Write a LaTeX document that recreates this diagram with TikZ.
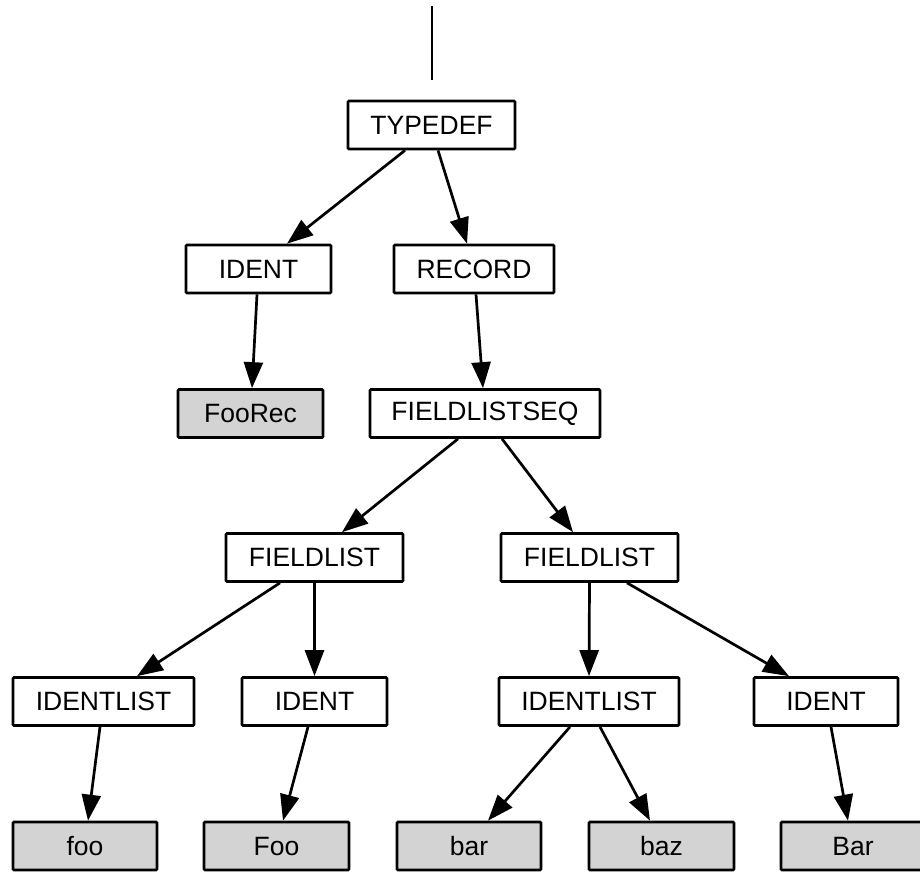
\documentclass[tikz,border=0pt]{standalone}
\usepackage{fontspec}
\setmainfont{Liberation Sans}
\usetikzlibrary{arrows.meta}

\definecolor{leafgray}{RGB}{211,211,211}

\tikzset{
  treenode/.style={draw=black, line width=2.7pt, rectangle, rounded corners=1pt,
    minimum height=48pt, inner sep=0pt, fill=white,
    font=\fontsize{26.5}{31}\selectfont},
  leafnode/.style={treenode, fill=leafgray},
  edge/.style={line width=2.7pt, -{Triangle[length=26pt, width=19pt]}},
}

\newcommand{\tedge}[4]{\draw[edge] ([xshift=#2pt]#1.south) -- ([xshift=#4pt]#3.north);}

\begin{document}
\begin{tikzpicture}[x=1pt, y=-1pt]
  \useasboundingbox (0,0) rectangle (920,871);

  % incoming line above the root
  \coordinate (rootin) at (432,6);
  \coordinate (rootinend) at (432,80);
  \draw[line width=2.7pt] (rootin) -- (rootinend);

  % level 1
  \node[treenode, minimum width=167pt] (typedef) at (431.5,125) {TYPEDEF};
  % level 2
  \node[treenode, minimum width=145pt] (ident1) at (258.5,269) {IDENT};
  \node[treenode, minimum width=160pt] (record) at (474,269) {RECORD};
  % level 3
  \node[leafnode, minimum width=145pt] (foorec) at (250.5,413.5) {FooRec};
  \node[treenode, minimum width=230pt] (flseq) at (485,413.5) {FIELDLISTSEQ};
  % level 4
  \node[treenode, minimum width=177pt] (flA) at (314.5,557.5) {FIELDLIST};
  \node[treenode, minimum width=177pt] (flB) at (589.5,557.5) {FIELDLIST};
  % level 5
  \node[treenode, minimum width=181pt] (ilA) at (103.5,701.5) {IDENTLIST};
  \node[treenode, minimum width=145pt] (idA) at (314.5,701.5) {IDENT};
  \node[treenode, minimum width=180pt] (ilB) at (589,701.5) {IDENTLIST};
  \node[treenode, minimum width=144pt] (idB) at (826,701.5) {IDENT};
  % level 6 (leaves)
  \node[leafnode, minimum width=144pt] (foo) at (85,846) {foo};
  \node[leafnode, minimum width=145pt] (Foo) at (276.5,846) {Foo};
  \node[leafnode, minimum width=144pt] (bar) at (469,846) {bar};
  \node[leafnode, minimum width=145pt] (baz) at (661.5,846) {baz};
  \node[leafnode, minimum width=144pt] (Bar) at (853,846) {Bar};

  % edges
  \tedge{typedef}{-26.5}{ident1}{28.5}
  \tedge{typedef}{6.5}{record}{-7}
  \tedge{ident1}{-1.5}{foorec}{1.5}
  \tedge{record}{2}{flseq}{-2}
  \tedge{flseq}{-27}{flA}{27.5}
  \tedge{flseq}{17}{flB}{-16.5}
  \tedge{flA}{-34.5}{ilA}{33.5}
  \tedge{flA}{0}{idA}{0}
  \tedge{flB}{0}{ilB}{0}
  \tedge{flB}{37.5}{idB}{-37}
  \tedge{ilA}{-3.5}{foo}{3}
  \tedge{idA}{-6.5}{Foo}{6.5}
  \tedge{ilB}{-19}{bar}{19}
  \tedge{ilB}{11}{baz}{-11.5}
  \tedge{idB}{5}{Bar}{-5}
\end{tikzpicture}
\end{document}
